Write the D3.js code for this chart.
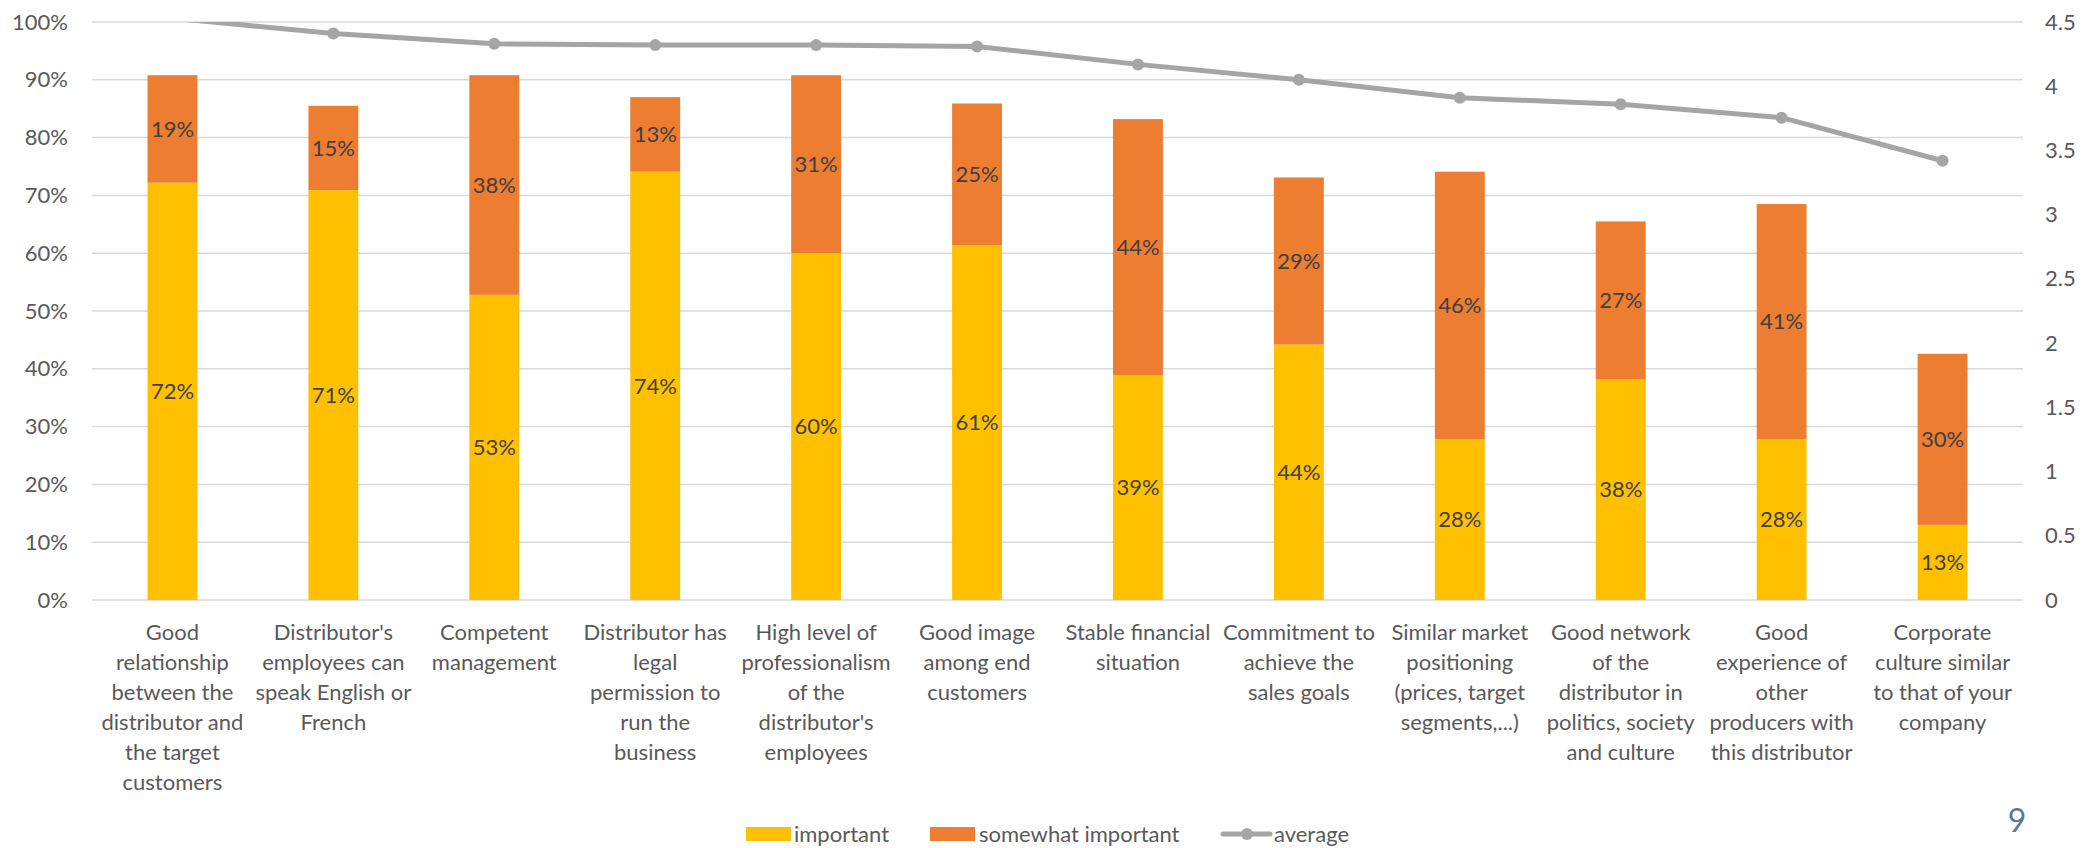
<!DOCTYPE html>
<html>
<head>
<meta charset="utf-8">
<script src="https://cdn.jsdelivr.net/npm/d3@7"></script>
<style>
  html, body { margin: 0; padding: 0; background: #fff; }
  svg { display: block; font-family: Lato, "Open Sans", sans-serif; }
</style>
</head>
<body>
<svg id="chart" width="2096" height="848"></svg>
<script>
// Categories (line breaks mark where each label wraps)
const categories = [
  "Good\nrelationship\nbetween the\ndistributor and\nthe target\ncustomers",
  "Distributor's\nemployees can\nspeak English or\nFrench",
  "Competent\nmanagement",
  "Distributor has\nlegal\npermission to\nrun the\nbusiness",
  "High level of\nprofessionalism\nof the\ndistributor's\nemployees",
  "Good image\namong end\ncustomers",
  "Stable financial\nsituation",
  "Commitment to\nachieve the\nsales goals",
  "Similar market\npositioning\n(prices, target\nsegments,...)",
  "Good network\nof the\ndistributor in\npolitics, society\nand culture",
  "Good\nexperience of\nother\nproducers with\nthis distributor",
  "Corporate\nculture similar\nto that of your\ncompany"
];

// Share of respondents rating each criterion (fractions)
const important = [0.722, 0.709, 0.528, 0.741, 0.600, 0.614, 0.389, 0.442, 0.278, 0.382, 0.278, 0.130];
const somewhatImportant = [0.186, 0.146, 0.380, 0.129, 0.308, 0.245, 0.443, 0.289, 0.463, 0.273, 0.407, 0.296];

// Average rating (right axis)
const average = [4.53, 4.41, 4.33, 4.32, 4.32, 4.31, 4.17, 4.05, 3.91, 3.86, 3.755, 3.42];

const leftTicks = [0, 0.1, 0.2, 0.3, 0.4, 0.5, 0.6, 0.7, 0.8, 0.9, 1.0];
const rightTicks = [0, 0.5, 1, 1.5, 2, 2.5, 3, 3.5, 4, 4.5];

const seriesNames = ["important", "somewhat important", "average"];
const colors = { important: "#FFC000", somewhat: "#ED7D31", line: "#A5A5A5" };

const svg = d3.select("#chart");
const plot = { left: 92, right: 2023, top: 22, bottom: 600 };

const x = d3.scaleBand()
  .domain(d3.range(categories.length))
  .range([plot.left, plot.right])
  .paddingInner(0.69)
  .paddingOuter(0.345);

const y = d3.scaleLinear().domain([0, 1]).range([plot.bottom, plot.top]);
const y2 = d3.scaleLinear().domain([0, 4.5]).range([plot.bottom, plot.top]);

// Gridlines
svg.append("g")
  .selectAll("line")
  .data(leftTicks)
  .join("line")
  .attr("x1", plot.left).attr("x2", plot.right)
  .attr("y1", d => y(d)).attr("y2", d => y(d))
  .attr("stroke", "#D9D9D9")
  .attr("stroke-width", 1.5);

// Left axis
const leftAxis = d3.axisLeft(y).tickValues(leftTicks).tickFormat(d3.format(".0%")).tickSize(0).tickPadding(24);
const gl = svg.append("g").attr("transform", `translate(${plot.left},0)`).call(leftAxis);
gl.select(".domain").remove();
gl.selectAll("text").attr("font-size", 22).attr("fill", "#595959").attr("font-family", "Lato, sans-serif");

// Right axis
const rightAxis = d3.axisRight(y2).tickValues(rightTicks).tickFormat(d3.format("~g")).tickSize(0).tickPadding(22);
const gr = svg.append("g").attr("transform", `translate(${plot.right},0)`).call(rightAxis);
gr.select(".domain").remove();
gr.selectAll("text").attr("font-size", 22).attr("fill", "#595959").attr("font-family", "Lato, sans-serif");

// Stacked bars
const rows = categories.map((c, i) => ({ i, imp: important[i], sw: somewhatImportant[i] }));
const pct = d3.format(".0%");

const bars = svg.append("g");
bars.selectAll("rect.imp")
  .data(rows).join("rect")
  .attr("class", "imp")
  .attr("x", d => x(d.i)).attr("width", x.bandwidth())
  .attr("y", d => y(d.imp)).attr("height", d => y(0) - y(d.imp))
  .attr("fill", colors.important);
bars.selectAll("rect.sw")
  .data(rows).join("rect")
  .attr("class", "sw")
  .attr("x", d => x(d.i)).attr("width", x.bandwidth())
  .attr("y", d => y(d.imp + d.sw)).attr("height", d => y(d.imp) - y(d.imp + d.sw))
  .attr("fill", colors.somewhat);

// Segment value labels
const labels = svg.append("g")
  .attr("font-size", 22).attr("fill", "#404040").attr("text-anchor", "middle");
labels.selectAll("text.imp")
  .data(rows).join("text")
  .attr("x", d => x(d.i) + x.bandwidth() / 2)
  .attr("y", d => y(d.imp / 2))
  .attr("dy", "0.35em")
  .text(d => pct(d.imp));
labels.selectAll("text.sw")
  .data(rows).join("text")
  .attr("x", d => x(d.i) + x.bandwidth() / 2)
  .attr("y", d => y(d.imp + d.sw / 2))
  .attr("dy", "0.35em")
  .text(d => pct(d.sw));

// Average line, clipped to the plot area
svg.append("clipPath").attr("id", "plotClip")
  .append("rect")
  .attr("x", plot.left).attr("y", plot.top)
  .attr("width", plot.right - plot.left).attr("height", plot.bottom - plot.top);

const cx = i => x(i) + x.bandwidth() / 2;
const lineGen = d3.line().x((d, i) => cx(i)).y(d => y2(d));
const lineG = svg.append("g").attr("clip-path", "url(#plotClip)");
lineG.append("path")
  .datum(average)
  .attr("d", lineGen)
  .attr("fill", "none")
  .attr("stroke", colors.line)
  .attr("stroke-width", 5)
  .attr("stroke-linejoin", "round");
// Markers are only drawn for points inside the axis range
const yMax = y2.domain()[1];
lineG.selectAll("circle")
  .data(average.map((v, i) => ({ v, i })).filter(d => d.v <= yMax))
  .join("circle")
  .attr("cx", d => cx(d.i)).attr("cy", d => y2(d.v))
  .attr("r", 6)
  .attr("fill", colors.line);

// Category labels
const catG = svg.append("g")
  .attr("font-size", 22).attr("fill", "#595959").attr("text-anchor", "middle");
categories.forEach((c, i) => {
  const t = catG.append("text").attr("x", cx(i)).attr("y", 640);
  c.split("\n").forEach((line, k) => {
    t.append("tspan").attr("x", cx(i)).attr("dy", k === 0 ? 0 : 30).text(line);
  });
});

// Legend
const legend = svg.append("g").attr("font-size", 22).attr("fill", "#595959");
const legY = 834;
legend.append("rect").attr("x", 746).attr("y", legY - 7).attr("width", 45).attr("height", 14).attr("fill", colors.important);
legend.append("text").attr("x", 794).attr("y", legY).attr("dy", "0.35em").text(seriesNames[0]);
legend.append("rect").attr("x", 930).attr("y", legY - 7).attr("width", 45).attr("height", 14).attr("fill", colors.somewhat);
legend.append("text").attr("x", 979).attr("y", legY).attr("dy", "0.35em").text(seriesNames[1]);
legend.append("line").attr("x1", 1223).attr("x2", 1270).attr("y1", legY).attr("y2", legY)
  .attr("stroke", colors.line).attr("stroke-width", 5).attr("stroke-linecap", "round");
legend.append("circle").attr("cx", 1247).attr("cy", legY).attr("r", 6).attr("fill", colors.line);
legend.append("text").attr("x", 1274).attr("y", legY).attr("dy", "0.35em").text(seriesNames[2]);

// Page number
svg.append("text").attr("x", 2017).attr("y", 832).attr("text-anchor", "middle")
  .attr("font-size", 32).attr("fill", "#5F7792").text("9");
</script>
</body>
</html>
